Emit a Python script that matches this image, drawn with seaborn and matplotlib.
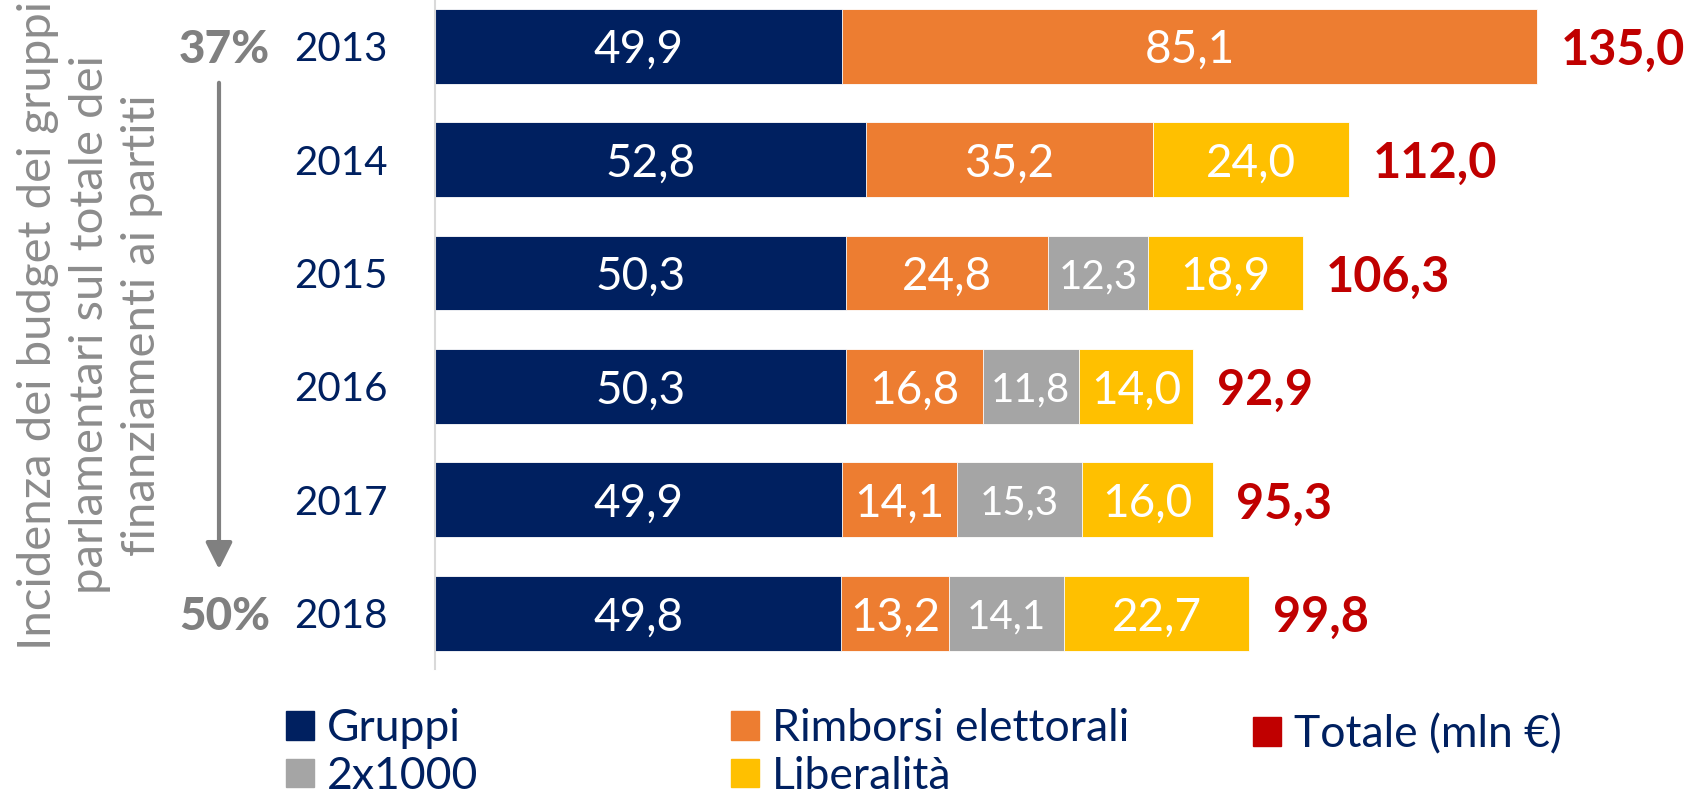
import pandas as pd
import seaborn as sns
import matplotlib.pyplot as plt
from matplotlib.patches import Patch, FancyArrowPatch
from matplotlib.transforms import blended_transform_factory

# dati (mln €)
anni = ['2013', '2014', '2015', '2016', '2017', '2018']
gruppi = [49.9, 52.8, 50.3, 50.3, 49.9, 49.8]
rimborsi = [85.1, 35.2, 24.8, 16.8, 14.1, 13.2]
due_per_mille = [0.0, 0.0, 12.3, 11.8, 15.3, 14.1]
liberalita = [0.0, 24.0, 18.9, 14.0, 16.0, 22.7]
totale = [135.0, 112.0, 106.3, 92.9, 95.3, 99.8]
incidenza = ['37%', '50%']

NAVY = '#002060'
ORANGE = '#ED7D31'
GREY = '#A5A5A5'
YELLOW = '#FFC000'
RED = '#C00000'
TXT_GREY = '#808080'

df = pd.DataFrame({'anno': anni, 'Gruppi': gruppi, 'Rimborsi': rimborsi,
                   '2x1000': due_per_mille, 'Liberalita': liberalita, 'Totale': totale})
df['c1'] = df['Gruppi']
df['c2'] = df['c1'] + df['Rimborsi']
df['c3'] = df['c2'] + df['2x1000']
df['c4'] = df['c3'] + df['Liberalita']

sns.set_style('white')
plt.rcParams['font.family'] = ['Lato', 'DejaVu Sans']

fig = plt.figure(figsize=(16.91, 8), dpi=100)
ax = fig.add_axes([435 / 1691, 131 / 800, 1 - 435 / 1691, 669 / 800])

# barre impilate: si disegnano le cumulate dalla piu lunga alla piu corta
for col, color in [('c4', YELLOW), ('c3', GREY), ('c2', ORANGE), ('c1', NAVY)]:
    sns.barplot(data=df, y='anno', x=col, order=anni, orient='h', color=color,
                saturation=1, width=0.66, edgecolor='white', linewidth=0.6, ax=ax)

ax.set_xlim(0, 153.9)
ax.set_ylim(5.49, -0.406)
ax.set_xlabel('')
ax.set_ylabel('')
ax.set_xticks([])
for s in ['top', 'right', 'bottom']:
    ax.spines[s].set_visible(False)
ax.spines['left'].set_color('#D9D9D9')
ax.spines['left'].set_linewidth(1.5)
ax.tick_params(axis='y', length=0, pad=34, labelsize=29, labelcolor=NAVY)


def fmt(v):
    return f'{v:.1f}'.replace('.', ',')


# etichette dentro le barre
for i in range(len(anni)):
    segs = [(0, df['c1'][i], gruppi[i], 33),
            (df['c1'][i], df['c2'][i], rimborsi[i], 33),
            (df['c2'][i], df['c3'][i], due_per_mille[i], 29),
            (df['c3'][i], df['c4'][i], liberalita[i], 33)]
    for a, b, v, fs in segs:
        if v > 0:
            ax.text((a + b) / 2, i, fmt(v), ha='center', va='center_baseline',
                    color='white', fontsize=fs)
    ax.annotate(fmt(totale[i]), xy=(totale[i], i), xytext=(17, 0),
                textcoords='offset points', ha='left', va='center_baseline',
                color=RED, fontsize=35, fontweight='bold')

# incidenza e freccia
tr = blended_transform_factory(fig.transFigure, ax.transData)
for j, i in enumerate([0, 5]):
    ax.text(270 / 1691, i, incidenza[j], transform=tr, ha='right', va='center_baseline',
            color=TXT_GREY, fontsize=33, fontweight='black')
fig.add_artist(FancyArrowPatch(
    (219 / 1691, 1 - 80 / 800), (219 / 1691, 1 - 572 / 800),
    transform=fig.transFigure, arrowstyle='-|>,head_length=0.9,head_width=0.45',
    mutation_scale=18, color=TXT_GREY, linewidth=3))

fig.text(90 / 1691, 1 - 325 / 800,
         'Incidenza dei budget dei gruppi\nparlamentari sul totale dei\nfinanziamenti ai partiti',
         rotation=90, ha='center', va='center', multialignment='center',
         color='#8C8C8C', fontsize=34, linespacing=1.3)

# legenda
leg_kw = dict(loc='upper left', frameon=False, borderpad=0, fontsize=32,
              handlelength=0.62, handleheight=0.62, handletextpad=0.3,
              labelspacing=0.15, labelcolor=NAVY, borderaxespad=0)
fig.legend(handles=[Patch(color=NAVY, label='Gruppi'), Patch(color=GREY, label='2x1000')],
           bbox_to_anchor=(286 / 1691, 1 - 708 / 800), **leg_kw)
fig.legend(handles=[Patch(color=ORANGE, label='Rimborsi elettorali'),
                    Patch(color=YELLOW, label='Liberalità')],
           bbox_to_anchor=(731 / 1691, 1 - 708 / 800), **leg_kw)
fig.legend(handles=[Patch(color=RED, label='Totale (mln €)')],
           bbox_to_anchor=(1253 / 1691, 1 - 714 / 800), **leg_kw)

fig.savefig('out.png', dpi=100)
